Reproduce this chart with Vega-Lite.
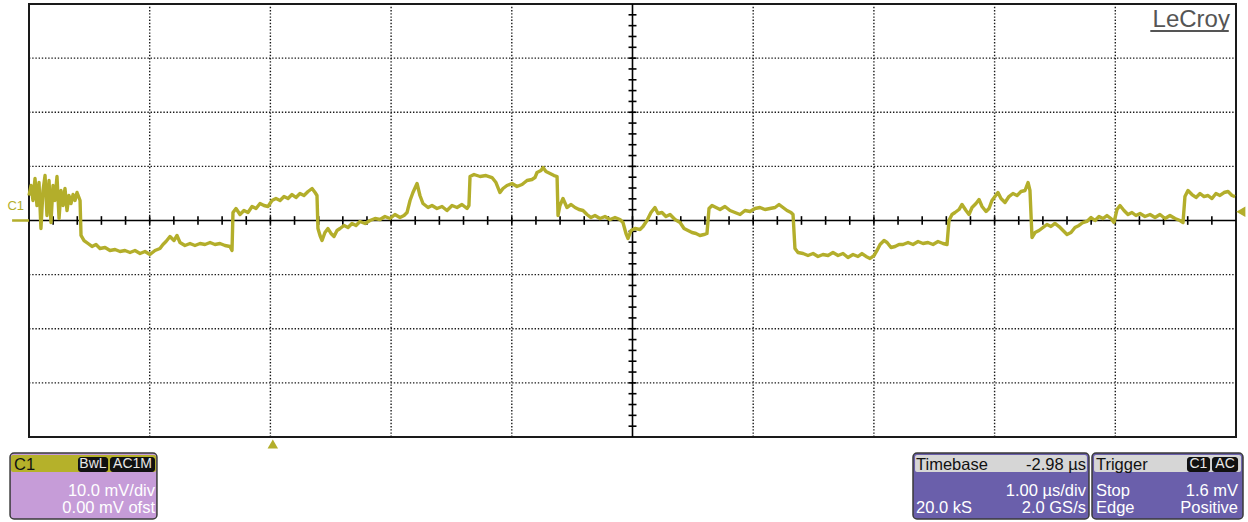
{
  "$schema": "https://vega.github.io/schema/vega-lite/v6.json",
  "width": 1207,
  "height": 433,
  "autosize": {"type": "none"},
  "padding": {"left": 29, "top": 4, "right": 12, "bottom": 85},
  "background": "white",
  "config": {
    "view": {"stroke": "#1a1a1a", "strokeWidth": 2},
    "font": "Liberation Sans"
  },
  "datasets": {
    "trace": [
      {"t":0.000,"v":4.62},{"t":0.017,"v":6.47},{"t":0.033,"v":3.70},{"t":0.050,"v":7.76},{"t":0.066,"v":2.77},{"t":0.083,"v":7.02},{"t":0.099,"v":-1.48},{"t":0.116,"v":5.54},{"t":0.133,"v":8.31},{"t":0.149,"v":0.92},{"t":0.166,"v":7.39},{"t":0.182,"v":-0.37},{"t":0.199,"v":6.47},{"t":0.215,"v":3.70},{"t":0.232,"v":8.13},{"t":0.249,"v":0.37},{"t":0.265,"v":5.54},{"t":0.282,"v":2.77},{"t":0.298,"v":5.91},{"t":0.315,"v":1.85},{"t":0.331,"v":4.62},{"t":0.348,"v":3.14},{"t":0.365,"v":4.80},{"t":0.381,"v":3.70},{"t":0.398,"v":5.17},{"t":0.414,"v":4.25},{"t":0.423,"v":3.70},
      {"t":0.431,"v":-2.77},{"t":0.456,"v":-3.70},{"t":0.489,"v":-4.25},{"t":0.522,"v":-4.80},{"t":0.555,"v":-4.43},{"t":0.588,"v":-5.17},{"t":0.630,"v":-4.99},{"t":0.671,"v":-5.54},{"t":0.713,"v":-5.36},{"t":0.754,"v":-5.73},{"t":0.795,"v":-5.54},{"t":0.837,"v":-5.91},{"t":0.878,"v":-5.54},{"t":0.920,"v":-6.10},{"t":0.961,"v":-5.73},{"t":1.002,"v":-6.28},{"t":1.044,"v":-5.54},{"t":1.085,"v":-5.17},{"t":1.110,"v":-4.43},{"t":1.135,"v":-3.88},{"t":1.168,"v":-2.96},{"t":1.201,"v":-3.70},{"t":1.226,"v":-2.77},{"t":1.251,"v":-4.06},{"t":1.292,"v":-4.62},{"t":1.334,"v":-4.25},{"t":1.375,"v":-4.62},{"t":1.417,"v":-4.25},{"t":1.458,"v":-4.43},{"t":1.500,"v":-4.06},{"t":1.541,"v":-4.43},{"t":1.582,"v":-4.25},{"t":1.624,"v":-4.62},{"t":1.665,"v":-4.80},{"t":1.682,"v":-5.54},
      {"t":1.690,"v":1.48},{"t":1.715,"v":2.22},{"t":1.748,"v":1.11},{"t":1.781,"v":1.85},{"t":1.814,"v":1.48},{"t":1.848,"v":2.59},{"t":1.881,"v":2.22},{"t":1.914,"v":3.14},{"t":1.947,"v":2.77},{"t":1.980,"v":2.59},{"t":2.013,"v":3.70},{"t":2.046,"v":4.06},{"t":2.080,"v":3.70},{"t":2.113,"v":4.43},{"t":2.146,"v":4.06},{"t":2.179,"v":4.80},{"t":2.212,"v":4.25},{"t":2.245,"v":4.99},{"t":2.278,"v":4.62},{"t":2.312,"v":5.36},{"t":2.345,"v":5.91},{"t":2.370,"v":5.17},{"t":2.386,"v":4.62},
      {"t":2.394,"v":-1.48},{"t":2.411,"v":-2.77},{"t":2.428,"v":-3.70},{"t":2.452,"v":-2.22},{"t":2.477,"v":-1.48},{"t":2.502,"v":-2.40},{"t":2.527,"v":-2.96},{"t":2.552,"v":-1.85},{"t":2.577,"v":-1.48},{"t":2.610,"v":-0.92},{"t":2.643,"v":-1.29},{"t":2.676,"v":-0.55},{"t":2.709,"v":-0.92},{"t":2.742,"v":-0.18},{"t":2.784,"v":-0.55},{"t":2.825,"v":0},{"t":2.867,"v":0.37},{"t":2.908,"v":0.18},{"t":2.949,"v":0.74},{"t":2.991,"v":0.37},{"t":3.032,"v":1.11},{"t":3.074,"v":0.55},{"t":3.107,"v":0.92},{"t":3.132,"v":1.48},
      {"t":3.157,"v":3.70},{"t":3.181,"v":5.17},{"t":3.215,"v":6.84},{"t":3.239,"v":4.62},{"t":3.264,"v":3.14},{"t":3.306,"v":2.40},{"t":3.339,"v":2.77},{"t":3.380,"v":2.22},{"t":3.422,"v":2.59},{"t":3.463,"v":1.85},{"t":3.505,"v":2.77},{"t":3.546,"v":2.40},{"t":3.587,"v":2.96},{"t":3.629,"v":2.22},{"t":3.645,"v":2.77},
      {"t":3.654,"v":8.13},{"t":3.687,"v":8.50},{"t":3.737,"v":8.13},{"t":3.786,"v":8.31},{"t":3.836,"v":7.94},{"t":3.869,"v":7.02},{"t":3.902,"v":5.17},{"t":3.927,"v":5.91},{"t":3.960,"v":6.47},{"t":4.002,"v":6.84},{"t":4.043,"v":6.28},{"t":4.085,"v":6.65},{"t":4.126,"v":7.39},{"t":4.167,"v":7.58},{"t":4.192,"v":7.94},{"t":4.209,"v":8.87},{"t":4.242,"v":9.24},{"t":4.259,"v":9.79},{"t":4.283,"v":9.05},{"t":4.317,"v":8.68},{"t":4.350,"v":8.31},{"t":4.375,"v":8.13},
      {"t":4.383,"v":0.92},{"t":4.399,"v":2.77},{"t":4.424,"v":4.06},{"t":4.457,"v":2.40},{"t":4.491,"v":2.96},{"t":4.524,"v":2.40},{"t":4.557,"v":2.03},{"t":4.590,"v":1.85},{"t":4.623,"v":1.11},{"t":4.656,"v":0.55},{"t":4.689,"v":0.92},{"t":4.731,"v":0.37},{"t":4.772,"v":0.74},{"t":4.814,"v":0.18},{"t":4.855,"v":0.55},{"t":4.896,"v":0.18},{"t":4.921,"v":-0.37},{"t":4.946,"v":-2.40},{"t":4.963,"v":-3.33},{"t":4.988,"v":-1.85},{"t":5.021,"v":-1.48},{"t":5.062,"v":-1.66},{"t":5.087,"v":-1.11},{"t":5.120,"v":0},{"t":5.153,"v":1.48},{"t":5.186,"v":2.40},{"t":5.211,"v":1.29},{"t":5.244,"v":1.48},{"t":5.277,"v":0.74},{"t":5.311,"v":1.11},{"t":5.352,"v":0.18},{"t":5.394,"v":-0.37},{"t":5.427,"v":-1.48},{"t":5.460,"v":-1.85},{"t":5.493,"v":-2.22},{"t":5.526,"v":-2.40},{"t":5.559,"v":-2.77},{"t":5.592,"v":-2.59},{"t":5.617,"v":-2.40},
      {"t":5.634,"v":2.22},{"t":5.659,"v":2.77},{"t":5.692,"v":2.40},{"t":5.725,"v":2.03},{"t":5.766,"v":2.59},{"t":5.808,"v":1.85},{"t":5.849,"v":1.48},{"t":5.891,"v":1.11},{"t":5.932,"v":1.85},{"t":5.974,"v":1.66},{"t":6.015,"v":2.22},{"t":6.056,"v":2.40},{"t":6.098,"v":2.03},{"t":6.139,"v":2.22},{"t":6.181,"v":2.40},{"t":6.214,"v":2.96},{"t":6.247,"v":2.40},{"t":6.280,"v":1.85},{"t":6.313,"v":1.48},{"t":6.330,"v":1.11},
      {"t":6.346,"v":-5.17},{"t":6.371,"v":-5.91},{"t":6.413,"v":-6.10},{"t":6.454,"v":-6.47},{"t":6.496,"v":-6.10},{"t":6.537,"v":-6.65},{"t":6.578,"v":-6.28},{"t":6.620,"v":-6.47},{"t":6.661,"v":-5.91},{"t":6.703,"v":-6.47},{"t":6.744,"v":-6.10},{"t":6.785,"v":-6.84},{"t":6.827,"v":-6.28},{"t":6.868,"v":-6.65},{"t":6.901,"v":-6.10},{"t":6.935,"v":-6.65},{"t":6.968,"v":-7.02},{"t":7.001,"v":-6.47},{"t":7.026,"v":-5.54},{"t":7.051,"v":-4.43},{"t":7.084,"v":-3.70},{"t":7.109,"v":-4.06},{"t":7.142,"v":-4.99},{"t":7.175,"v":-4.80},{"t":7.208,"v":-4.43},{"t":7.241,"v":-4.43},{"t":7.283,"v":-4.06},{"t":7.324,"v":-4.43},{"t":7.366,"v":-3.88},{"t":7.407,"v":-4.25},{"t":7.448,"v":-4.06},{"t":7.490,"v":-4.43},{"t":7.531,"v":-3.88},{"t":7.573,"v":-4.25},{"t":7.606,"v":-4.43},
      {"t":7.622,"v":0},{"t":7.647,"v":1.11},{"t":7.672,"v":1.48},{"t":7.705,"v":2.03},{"t":7.730,"v":2.96},{"t":7.763,"v":1.85},{"t":7.788,"v":1.11},{"t":7.813,"v":2.40},{"t":7.846,"v":3.14},{"t":7.871,"v":3.88},{"t":7.896,"v":2.59},{"t":7.929,"v":1.66},{"t":7.954,"v":2.22},{"t":7.978,"v":3.70},{"t":8.003,"v":4.43},{"t":8.028,"v":5.17},{"t":8.053,"v":4.06},{"t":8.086,"v":3.33},{"t":8.119,"v":4.43},{"t":8.152,"v":4.99},{"t":8.186,"v":4.62},{"t":8.219,"v":5.36},{"t":8.252,"v":5.54},{"t":8.277,"v":7.02},{"t":8.293,"v":5.54},
      {"t":8.310,"v":-3.14},{"t":8.335,"v":-2.22},{"t":8.368,"v":-1.85},{"t":8.401,"v":-1.29},{"t":8.434,"v":-0.74},{"t":8.467,"v":-1.11},{"t":8.500,"v":-0.55},{"t":8.534,"v":-1.11},{"t":8.567,"v":-1.85},{"t":8.600,"v":-2.59},{"t":8.633,"v":-2.22},{"t":8.666,"v":-1.29},{"t":8.699,"v":-0.92},{"t":8.732,"v":-0.37},{"t":8.765,"v":-0.18},{"t":8.799,"v":0.55},{"t":8.832,"v":0},{"t":8.865,"v":0.74},{"t":8.898,"v":0.37},{"t":8.931,"v":0.92},{"t":8.964,"v":0.37},{"t":8.989,"v":-0.37},
      {"t":9.014,"v":2.03},{"t":9.039,"v":2.77},{"t":9.072,"v":1.85},{"t":9.105,"v":1.11},{"t":9.138,"v":1.48},{"t":9.171,"v":0.92},{"t":9.205,"v":1.29},{"t":9.246,"v":0.74},{"t":9.288,"v":1.11},{"t":9.329,"v":0.55},{"t":9.370,"v":1.11},{"t":9.412,"v":0.37},{"t":9.453,"v":0.92},{"t":9.495,"v":0.37},{"t":9.536,"v":0},{"t":9.561,"v":-0.37},
      {"t":9.577,"v":4.43},{"t":9.602,"v":5.54},{"t":9.635,"v":4.80},{"t":9.669,"v":4.25},{"t":9.702,"v":4.99},{"t":9.735,"v":4.43},{"t":9.768,"v":4.62},{"t":9.801,"v":4.06},{"t":9.834,"v":4.99},{"t":9.867,"v":4.62},{"t":9.901,"v":5.17},{"t":9.934,"v":5.36},{"t":9.967,"v":4.62},{"t":9.992,"v":4.43}
    ],
    "xgrid": [{"t":1},{"t":2},{"t":3},{"t":4},{"t":6},{"t":7},{"t":8},{"t":9}],
    "ygrid": [{"v":-30},{"v":-20},{"v":-10},{"v":10},{"v":20},{"v":30}],
    "hticks": [{"t":0.2},{"t":0.4},{"t":0.6},{"t":0.8},{"t":1},{"t":1.2},{"t":1.4},{"t":1.6},{"t":1.8},{"t":2},{"t":2.2},{"t":2.4},{"t":2.6},{"t":2.8},{"t":3},{"t":3.2},{"t":3.4},{"t":3.6},{"t":3.8},{"t":4},{"t":4.2},{"t":4.4},{"t":4.6},{"t":4.8},{"t":5},{"t":5.2},{"t":5.4},{"t":5.6},{"t":5.8},{"t":6},{"t":6.2},{"t":6.4},{"t":6.6},{"t":6.8},{"t":7},{"t":7.2},{"t":7.4},{"t":7.6},{"t":7.8},{"t":8},{"t":8.2},{"t":8.4},{"t":8.6},{"t":8.8},{"t":9},{"t":9.2},{"t":9.4},{"t":9.6},{"t":9.8}],
    "vticks": [{"v":-38},{"v":-36},{"v":-34},{"v":-32},{"v":-30},{"v":-28},{"v":-26},{"v":-24},{"v":-22},{"v":-20},{"v":-18},{"v":-16},{"v":-14},{"v":-12},{"v":-10},{"v":-8},{"v":-6},{"v":-4},{"v":-2},{"v":2},{"v":4},{"v":6},{"v":8},{"v":10},{"v":12},{"v":14},{"v":16},{"v":18},{"v":20},{"v":22},{"v":24},{"v":26},{"v":28},{"v":30},{"v":32},{"v":34},{"v":36},{"v":38}],
    "panels": [
      {"part":"channel","t":-0.157,"t2":1.060,"v":-42.96,"v2":-55.15},
      {"part":"timebase","t":7.324,"t2":8.782,"v":-42.96,"v2":-55.15},
      {"part":"trigger","t":8.807,"t2":10.058,"v":-42.96,"v2":-55.15}
    ],
    "headers": [
      {"part":"channel","t":-0.149,"t2":1.052,"v":-43.33,"v2":-46.47},
      {"part":"timebase","t":7.341,"t2":8.765,"v":-43.33,"v2":-46.47},
      {"part":"trigger","t":8.824,"t2":10.042,"v":-43.33,"v2":-46.47}
    ],
    "badges": [
      {"label":"BwL","t":0.406,"t2":0.655,"v":-43.70,"v2":-46.47,"tc":0.530},
      {"label":"AC1M","t":0.671,"t2":1.044,"v":-43.70,"v2":-46.47,"tc":0.858},
      {"label":"C1","t":9.594,"t2":9.785,"v":-43.70,"v2":-46.47,"tc":9.689},
      {"label":"AC","t":9.801,"t2":10.017,"v":-43.70,"v2":-46.47,"tc":9.909}
    ],
    "leftText": [
      {"label":"C1","t":-0.124,"v":-45.17,"role":"header"},
      {"label":"Timebase","t":7.349,"v":-45.17,"role":"header"},
      {"label":"20.0 kS","t":7.349,"v":-53.12,"role":"body"},
      {"label":"Trigger","t":8.840,"v":-45.17,"role":"header"},
      {"label":"Stop","t":8.840,"v":-50.0,"role":"body"},
      {"label":"Edge","t":8.840,"v":-53.12,"role":"body"}
    ],
    "rightText": [
      {"label":"10.0 mV/div","t":1.044,"v":-50.0,"role":"body"},
      {"label":"0.00 mV ofst","t":1.044,"v":-53.12,"role":"body"},
      {"label":"-2.98 µs","t":8.757,"v":-45.17,"role":"header"},
      {"label":"1.00 µs/div","t":8.757,"v":-50.0,"role":"body"},
      {"label":"2.0 GS/s","t":8.757,"v":-53.12,"role":"body"},
      {"label":"1.6 mV","t":10.017,"v":-50.0,"role":"body"},
      {"label":"Positive","t":10.017,"v":-53.12,"role":"body"}
    ],
    "markers": [
      {"kind":"level","t":10.04,"v":1.6},
      {"kind":"position","t":2.02,"v":-41.3}
    ],
    "one": [{}]
  },
  "resolve": {"scale": {"color": "independent", "shape": "independent"}},
  "layer": [
    {
      "data": {"name": "xgrid"},
      "mark": {"type": "rule", "color": "#1a1a1a", "strokeWidth": 1.4, "strokeDash": [1.4, 1.8]},
      "encoding": {
        "x": {"field": "t", "type": "quantitative", "scale": {"domain": [0, 10], "nice": false, "zero": false}, "axis": null},
        "y": {"datum": -40, "scale": {"domain": [-40, 40], "nice": false, "zero": false}, "axis": null},
        "y2": {"datum": 40}
      }
    },
    {
      "data": {"name": "ygrid"},
      "mark": {"type": "rule", "color": "#1a1a1a", "strokeWidth": 1.4, "strokeDash": [1.4, 1.8]},
      "encoding": {
        "y": {"field": "v", "type": "quantitative", "axis": null},
        "x": {"datum": 0, "axis": null},
        "x2": {"datum": 10}
      }
    },
    {
      "data": {"name": "one"},
      "mark": {"type": "rule", "color": "#000", "strokeWidth": 1.6},
      "encoding": {"y": {"datum": 0, "axis": null}, "x": {"datum": 0, "axis": null}, "x2": {"datum": 10}}
    },
    {
      "data": {"name": "one"},
      "mark": {"type": "rule", "color": "#000", "strokeWidth": 1.6},
      "encoding": {"x": {"datum": 5, "axis": null}, "y": {"datum": -40, "axis": null}, "y2": {"datum": 40}}
    },
    {
      "data": {"name": "hticks"},
      "mark": {"type": "rule", "color": "#000", "strokeWidth": 1.6},
      "encoding": {"x": {"field": "t", "type": "quantitative", "axis": null}, "y": {"datum": -0.8, "axis": null}, "y2": {"datum": 0.8}}
    },
    {
      "data": {"name": "vticks"},
      "mark": {"type": "rule", "color": "#000", "strokeWidth": 1.6},
      "encoding": {"y": {"field": "v", "type": "quantitative", "axis": null}, "x": {"datum": 4.967, "axis": null}, "x2": {"datum": 5.033}}
    },
    {
      "data": {"name": "trace"},
      "mark": {"type": "line", "color": "#b3ae2b", "strokeWidth": 3.4, "strokeJoin": "round"},
      "encoding": {"x": {"field": "t", "type": "quantitative", "axis": null}, "y": {"field": "v", "type": "quantitative", "axis": null}}
    },
    {
      "data": {"name": "one"},
      "mark": {"type": "rule", "color": "#b3ae2b", "strokeWidth": 2.5},
      "encoding": {"y": {"datum": 0, "axis": null}, "x": {"datum": -0.14, "axis": null}, "x2": {"datum": 0}}
    },
    {
      "data": {"name": "one"},
      "mark": {"type": "text", "text": "C1", "color": "#b3ae2b", "fontSize": 13, "align": "center", "baseline": "middle"},
      "encoding": {"x": {"datum": -0.11, "axis": null}, "y": {"datum": 2.7, "axis": null}}
    },
    {
      "data": {"name": "one"},
      "mark": {"type": "text", "text": "LeCroy", "color": "#555555", "fontSize": 24, "align": "right", "baseline": "alphabetic"},
      "encoding": {"x": {"datum": 9.95, "axis": null}, "y": {"datum": 35.75, "axis": null}}
    },
    {
      "data": {"name": "one"},
      "mark": {"type": "rule", "color": "#555555", "strokeWidth": 2},
      "encoding": {"y": {"datum": 35.0, "axis": null}, "x": {"datum": 9.29, "axis": null}, "x2": {"datum": 9.94}}
    },
    {
      "data": {"name": "markers"},
      "mark": {"type": "point", "filled": true, "size": 110, "opacity": 1},
      "encoding": {
        "x": {"field": "t", "type": "quantitative", "axis": null},
        "y": {"field": "v", "type": "quantitative", "axis": null},
        "shape": {"field": "kind", "type": "nominal", "scale": {"domain": ["level", "position"], "range": ["triangle-left", "triangle-up"]}, "legend": null},
        "color": {"value": "#b3ae2b"}
      }
    },
    {
      "data": {"name": "panels"},
      "mark": {"type": "rect", "cornerRadius": 4, "stroke": "#3a3a3a", "strokeWidth": 1.5},
      "encoding": {
        "x": {"field": "t", "type": "quantitative", "axis": null},
        "x2": {"field": "t2"},
        "y": {"field": "v", "type": "quantitative", "axis": null},
        "y2": {"field": "v2"},
        "color": {"field": "part", "type": "nominal", "scale": {"domain": ["channel", "timebase", "trigger"], "range": ["#c69cd8", "#6a5fab", "#6a5fab"]}, "legend": null}
      }
    },
    {
      "data": {"name": "headers"},
      "mark": {"type": "rect", "cornerRadius": 2},
      "encoding": {
        "x": {"field": "t", "type": "quantitative", "axis": null},
        "x2": {"field": "t2"},
        "y": {"field": "v", "type": "quantitative", "axis": null},
        "y2": {"field": "v2"},
        "color": {"field": "part", "type": "nominal", "scale": {"domain": ["channel", "timebase", "trigger"], "range": ["#b5b12a", "#d6d6d6", "#d6d6d6"]}, "legend": null}
      }
    },
    {
      "data": {"name": "badges"},
      "mark": {"type": "rect", "cornerRadius": 3, "color": "#111111"},
      "encoding": {
        "x": {"field": "t", "type": "quantitative", "axis": null},
        "x2": {"field": "t2"},
        "y": {"field": "v", "type": "quantitative", "axis": null},
        "y2": {"field": "v2"}
      }
    },
    {
      "data": {"name": "badges"},
      "mark": {"type": "text", "align": "center", "baseline": "middle", "fontSize": 14, "color": "#e8e8e8"},
      "encoding": {
        "x": {"field": "tc", "type": "quantitative", "axis": null},
        "y": {"field": "v", "type": "quantitative", "axis": null},
        "yOffset": {"value": 7},
        "text": {"field": "label"}
      }
    },
    {
      "data": {"name": "leftText"},
      "mark": {"type": "text", "align": "left", "baseline": "middle", "fontSize": 16.5},
      "encoding": {
        "x": {"field": "t", "type": "quantitative", "axis": null},
        "y": {"field": "v", "type": "quantitative", "axis": null},
        "text": {"field": "label"},
        "color": {"field": "role", "type": "nominal", "scale": {"domain": ["header", "body"], "range": ["#111111", "#ffffff"]}, "legend": null}
      }
    },
    {
      "data": {"name": "rightText"},
      "mark": {"type": "text", "align": "right", "baseline": "middle", "fontSize": 16.5},
      "encoding": {
        "x": {"field": "t", "type": "quantitative", "axis": null},
        "y": {"field": "v", "type": "quantitative", "axis": null},
        "text": {"field": "label"},
        "color": {"field": "role", "type": "nominal", "scale": {"domain": ["header", "body"], "range": ["#111111", "#ffffff"]}, "legend": null}
      }
    }
  ]
}
